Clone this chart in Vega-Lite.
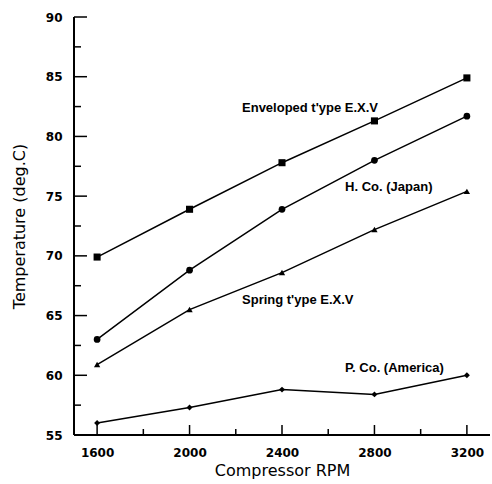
{
  "$schema": "https://vega.github.io/schema/vega-lite/v6.json",
  "width": 416,
  "height": 418,
  "autosize": "none",
  "padding": {"left": 74, "top": 17, "right": 2, "bottom": 49},
  "background": "white",
  "config": {
    "view": {"stroke": null},
    "font": "DejaVu Sans"
  },
  "datasets": {
    "series": [
      {"series": "Enveloped", "rpm": 1600, "temp": 69.9},
      {"series": "Enveloped", "rpm": 2000, "temp": 73.9},
      {"series": "Enveloped", "rpm": 2400, "temp": 77.8},
      {"series": "Enveloped", "rpm": 2800, "temp": 81.3},
      {"series": "Enveloped", "rpm": 3200, "temp": 84.9},
      {"series": "HCo", "rpm": 1600, "temp": 63.0},
      {"series": "HCo", "rpm": 2000, "temp": 68.8},
      {"series": "HCo", "rpm": 2400, "temp": 73.9},
      {"series": "HCo", "rpm": 2800, "temp": 78.0},
      {"series": "HCo", "rpm": 3200, "temp": 81.7},
      {"series": "Spring", "rpm": 1600, "temp": 60.9},
      {"series": "Spring", "rpm": 2000, "temp": 65.5},
      {"series": "Spring", "rpm": 2400, "temp": 68.6},
      {"series": "Spring", "rpm": 2800, "temp": 72.2},
      {"series": "Spring", "rpm": 3200, "temp": 75.4},
      {"series": "PCo", "rpm": 1600, "temp": 56.0},
      {"series": "PCo", "rpm": 2000, "temp": 57.3},
      {"series": "PCo", "rpm": 2400, "temp": 58.8},
      {"series": "PCo", "rpm": 2800, "temp": 58.4},
      {"series": "PCo", "rpm": 3200, "temp": 60.0}
    ],
    "labels": [
      {"label": "Enveloped t'ype E.X.V", "rpm": 2227, "temp": 82.4},
      {"label": "H. Co. (Japan)", "rpm": 2673, "temp": 75.8},
      {"label": "Spring t'ype E.X.V", "rpm": 2227, "temp": 66.3},
      {"label": "P. Co. (America)", "rpm": 2673, "temp": 60.6}
    ],
    "xticks": [
      {"rpm": 1600, "kind": "major"}, {"rpm": 1800, "kind": "minor"},
      {"rpm": 2000, "kind": "major"}, {"rpm": 2200, "kind": "minor"},
      {"rpm": 2400, "kind": "major"}, {"rpm": 2600, "kind": "minor"},
      {"rpm": 2800, "kind": "major"}, {"rpm": 3000, "kind": "minor"},
      {"rpm": 3200, "kind": "major"}
    ],
    "yticks": [
      {"temp": 57.5, "kind": "minor"}, {"temp": 60, "kind": "major"},
      {"temp": 62.5, "kind": "minor"}, {"temp": 65, "kind": "major"},
      {"temp": 67.5, "kind": "minor"}, {"temp": 70, "kind": "major"},
      {"temp": 72.5, "kind": "minor"}, {"temp": 75, "kind": "major"},
      {"temp": 77.5, "kind": "minor"}, {"temp": 80, "kind": "major"},
      {"temp": 82.5, "kind": "minor"}, {"temp": 85, "kind": "major"},
      {"temp": 87.5, "kind": "minor"}, {"temp": 90, "kind": "major"}
    ],
    "frame": [{"part": "axes"}]
  },
  "layer": [
    {
      "data": {"name": "series"},
      "mark": {"type": "line", "color": "black", "strokeWidth": 1.5},
      "encoding": {
        "x": {
          "field": "rpm", "type": "quantitative",
          "scale": {"domain": [1500, 3300], "nice": false, "zero": false},
          "axis": {
            "title": "Compressor RPM",
            "titleFont": "DejaVu Sans", "titleFontSize": 16, "titleFontWeight": "normal", "titleColor": "black",
            "titlePadding": 4,
            "values": [1600, 2000, 2400, 2800, 3200],
            "format": "d",
            "labelFont": "DejaVu Sans", "labelFontSize": 12, "labelFontWeight": "bold", "labelColor": "black",
            "labelPadding": 12,
            "grid": false, "domain": false, "ticks": false
          }
        },
        "y": {
          "field": "temp", "type": "quantitative",
          "scale": {"domain": [55, 90], "nice": false, "zero": false},
          "axis": {
            "title": "Temperature (deg.C)",
            "titleFont": "DejaVu Sans", "titleFontSize": 16, "titleFontWeight": "normal", "titleColor": "black",
            "titlePadding": 18,
            "values": [55, 60, 65, 70, 75, 80, 85, 90],
            "labelFont": "DejaVu Sans", "labelFontSize": 12, "labelFontWeight": "bold", "labelColor": "black",
            "labelPadding": 12,
            "grid": false, "domain": false, "ticks": false
          }
        },
        "detail": {"field": "series"}
      }
    },
    {
      "data": {"name": "frame"},
      "mark": {"type": "rule", "color": "black", "strokeWidth": 2},
      "encoding": {
        "x": {"datum": 1500, "type": "quantitative"},
        "x2": {"datum": 3300},
        "y": {"datum": 55, "type": "quantitative"}
      }
    },
    {
      "data": {"name": "frame"},
      "mark": {"type": "rule", "color": "black", "strokeWidth": 2},
      "encoding": {
        "x": {"datum": 1500, "type": "quantitative"},
        "y": {"datum": 55, "type": "quantitative"},
        "y2": {"datum": 90}
      }
    },
    {
      "data": {"name": "xticks"},
      "transform": [{"filter": "datum.kind === 'major'"}],
      "mark": {"type": "tick", "orient": "vertical", "color": "black", "size": 10, "thickness": 1.5, "yOffset": -5, "opacity": 1},
      "encoding": {
        "x": {"field": "rpm", "type": "quantitative"},
        "y": {"datum": 55, "type": "quantitative"}
      }
    },
    {
      "data": {"name": "xticks"},
      "transform": [{"filter": "datum.kind === 'minor'"}],
      "mark": {"type": "tick", "orient": "vertical", "color": "black", "size": 6, "thickness": 1.5, "yOffset": -3, "opacity": 1},
      "encoding": {
        "x": {"field": "rpm", "type": "quantitative"},
        "y": {"datum": 55, "type": "quantitative"}
      }
    },
    {
      "data": {"name": "yticks"},
      "transform": [{"filter": "datum.kind === 'major'"}],
      "mark": {"type": "tick", "orient": "horizontal", "color": "black", "size": 13, "thickness": 1.5, "xOffset": 6.5, "opacity": 1},
      "encoding": {
        "x": {"datum": 1500, "type": "quantitative"},
        "y": {"field": "temp", "type": "quantitative"}
      }
    },
    {
      "data": {"name": "yticks"},
      "transform": [{"filter": "datum.kind === 'minor'"}],
      "mark": {"type": "tick", "orient": "horizontal", "color": "black", "size": 7, "thickness": 1.5, "xOffset": 3.5, "opacity": 1},
      "encoding": {
        "x": {"datum": 1500, "type": "quantitative"},
        "y": {"field": "temp", "type": "quantitative"}
      }
    },
    {
      "data": {"name": "series"},
      "mark": {"type": "point", "filled": true, "color": "black", "opacity": 1},
      "encoding": {
        "x": {"field": "rpm", "type": "quantitative"},
        "y": {"field": "temp", "type": "quantitative"},
        "shape": {
          "field": "series", "type": "nominal", "legend": null,
          "scale": {"domain": ["Enveloped", "HCo", "Spring", "PCo"], "range": ["square", "circle", "triangle-up", "diamond"]}
        },
        "size": {
          "field": "series", "type": "nominal", "legend": null,
          "scale": {"domain": ["Enveloped", "HCo", "Spring", "PCo"], "range": [50, 35, 35, 25]}
        }
      }
    },
    {
      "data": {"name": "labels"},
      "mark": {"type": "text", "align": "left", "baseline": "middle", "font": "Liberation Sans", "fontSize": 13, "fontWeight": "bold", "color": "black"},
      "encoding": {
        "x": {"field": "rpm", "type": "quantitative"},
        "y": {"field": "temp", "type": "quantitative"},
        "text": {"field": "label"}
      }
    }
  ]
}
